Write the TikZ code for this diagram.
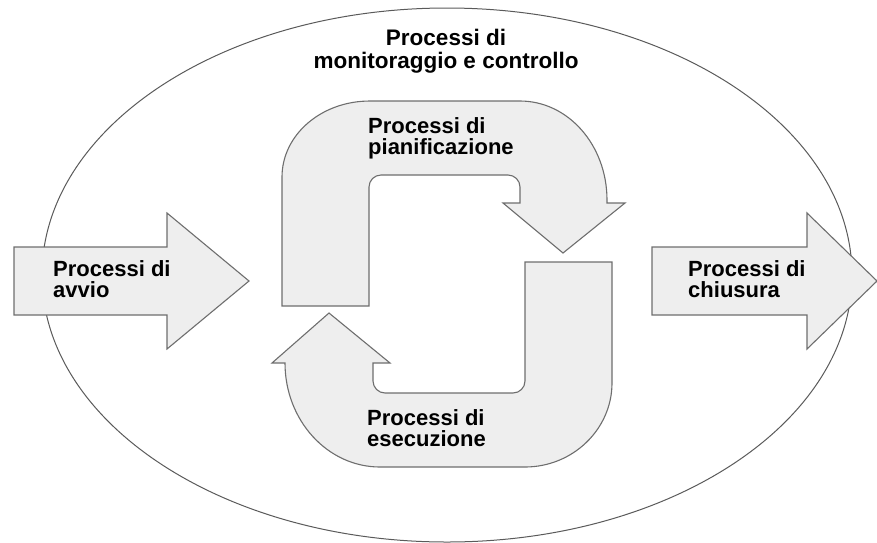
\documentclass[tikz,border=0pt]{standalone}
\usepackage{fontspec}
\setmainfont{Liberation Sans}
\definecolor{shapefill}{HTML}{EEEEEE}
\definecolor{shapeline}{HTML}{6E6E6E}
\definecolor{ringline}{HTML}{5A5A5A}
\begin{document}
\begin{tikzpicture}[x=1pt,y=-1pt,
  bigarrow/.style={fill=shapefill,draw=shapeline,line width=1.1pt,line join=miter},
  lbl/.style={font=\bfseries\fontsize{22}{21.5}\selectfont,align=left,inner sep=0pt,anchor=north west},
  toplbl/.style={font=\bfseries\fontsize{22.5}{23}\selectfont,align=center,inner sep=0pt,anchor=north}]
\useasboundingbox (0,0) rectangle (877,542);
% outer ellipse
\draw[ringline,line width=1pt] (447,275) ellipse [x radius=405,y radius=267];
% left arrow
\draw[bigarrow] (14,247) -- (167,247) -- (167,213) -- (249,281) -- (167,349) -- (167,315) -- (14,315) -- cycle;
% right arrow
\draw[bigarrow] (652,247) -- (807,247) -- (807,213) -- (877,281) -- (807,349) -- (807,315) -- (652,315) -- cycle;
% upper U arrow
\draw[bigarrow] (282,306) -- (282,177)
  .. controls (282,135) and (321,101) .. (370,101)
  -- (520,101)
  .. controls (568,101) and (607,145) .. (607,200)
  -- (607,203) -- (625,203) -- (563,253) -- (503,203) -- (520,203)
  -- (520,187) .. controls (520,180.4) and (514.6,175) .. (508,175)
  -- (381,175) .. controls (374.4,175) and (369,180.4) .. (369,187)
  -- (369,306) -- cycle;
% lower U arrow
\draw[bigarrow] (525,262) -- (612,262) -- (612,383)
  .. controls (612,429) and (573,467) .. (525,467)
  -- (380,467)
  .. controls (327.5,467) and (285,420.4) .. (285,363)
  -- (272,363) -- (329,313) -- (390,363) -- (373,363)
  -- (373,381) .. controls (373,387.6) and (378.4,393) .. (385,393)
  -- (513,393) .. controls (519.6,393) and (525,387.6) .. (525,381)
  -- cycle;
% labels
\node[toplbl] (monitor) at (446,29) {Processi di\\monitoraggio e controllo};
\node[lbl] (avvio) at (53,260.3) {Processi di\\avvio};
\node[lbl] (chiusura) at (688,260.3) {Processi di\\chiusura};
\node[lbl] (pianif) at (368,117.3) {Processi di\\pianificazione};
\node[lbl] (esec) at (367,409.3) {Processi di\\esecuzione};
\end{tikzpicture}
\end{document}
